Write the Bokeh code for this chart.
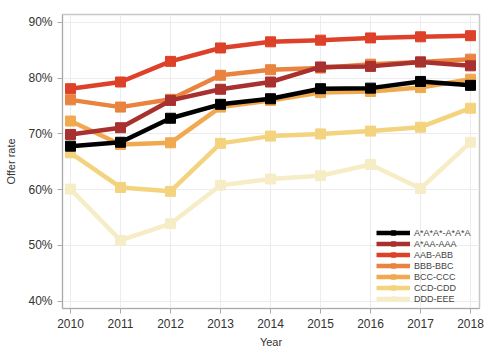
from bokeh.plotting import figure
from bokeh.models import Legend, LegendItem, PrintfTickFormatter, FixedTicker, Range1d
from bokeh.embed import file_html
from bokeh.resources import INLINE

years = [2010, 2011, 2012, 2013, 2014, 2015, 2016, 2017, 2018]
labels = ["A*A*A*-A*A*A", "A*AA-AAA", "AAB-ABB", "BBB-BBC", "BCC-CCC", "CCD-CDD", "DDD-EEE"]
s_astar3 = [67.8, 68.5, 72.8, 75.3, 76.3, 78.1, 78.2, 79.4, 78.7]
s_astar_aa = [69.9, 71.1, 76.0, 78.0, 79.3, 82.0, 82.1, 82.9, 82.2]
s_aab = [78.1, 79.3, 83.0, 85.4, 86.5, 86.8, 87.2, 87.4, 87.6]
s_bbb = [76.1, 74.8, 76.2, 80.5, 81.5, 81.8, 82.5, 82.9, 83.4]
s_bcc = [72.3, 68.1, 68.4, 74.8, 76.0, 77.4, 77.6, 78.3, 79.8]
s_ccd = [66.6, 60.4, 59.7, 68.3, 69.6, 70.0, 70.5, 71.2, 74.6]
s_ddd = [60.1, 50.9, 53.9, 60.8, 61.9, 62.5, 64.5, 60.2, 68.5]
series = [s_astar3, s_astar_aa, s_aab, s_bbb, s_bcc, s_ccd, s_ddd]
colors = ["#000000", "#a8302e", "#de4129", "#e8843f", "#f0a94e", "#f4d37f", "#f6edc6"]
y_ticks = [40, 50, 60, 70, 80, 90]

p = figure(width=500, height=352, output_backend="svg", toolbar_location=None,
           x_range=Range1d(2009.84, 2018.18), y_range=Range1d(38.7, 91.4),
           min_border_left=62, min_border_right=21, min_border_top=14, min_border_bottom=44)
p.background_fill_color = "white"
p.outline_line_color = "#c8c8c8"
p.outline_line_width = 1.5

font = "Liberation Sans"
for ax in (p.xaxis[0], p.yaxis[0]):
    ax.major_label_text_font = font
    ax.major_label_text_font_size = "12px"
    ax.major_label_text_color = "#333333"
    ax.axis_label_text_font = font
    ax.axis_label_text_font_size = "11px"
    ax.axis_label_text_font_style = "normal"
    ax.axis_label_text_color = "#333333"
    ax.axis_line_color = "#aaaaaa"
    ax.major_tick_line_color = "#aaaaaa"
    ax.major_tick_out = 5
    ax.major_tick_in = 0
    ax.minor_tick_line_color = None

p.xaxis.ticker = FixedTicker(ticks=years)
p.yaxis.ticker = FixedTicker(ticks=y_ticks)
p.yaxis.formatter = PrintfTickFormatter(format="%d%%")
p.xaxis.axis_label = "Year"
p.yaxis.axis_label = "Offer rate"
p.xaxis.axis_label_standoff = 5
p.yaxis.axis_label_standoff = 8
p.grid.grid_line_color = "#ececec"

items = []
rend = {}
for i in reversed(range(len(series))):
    l = p.line(years, series[i], line_color=colors[i], line_width=4.5)
    m = p.scatter(years, series[i], marker="square", size=10, color=colors[i])
    rend[i] = [l, m]
for i in range(len(series)):
    items.append(LegendItem(label=labels[i], renderers=rend[i]))

legend = Legend(items=items, location=(314, 4), padding=2, margin=0, spacing=0,
                label_text_font=font, label_text_font_size="9px", label_text_color="#444444",
                glyph_width=34, glyph_height=11, label_height=11, label_standoff=4,
                border_line_color=None, background_fill_alpha=0.0)
p.add_layout(legend, "center")

open("out.html", "w").write(file_html(p, INLINE))
